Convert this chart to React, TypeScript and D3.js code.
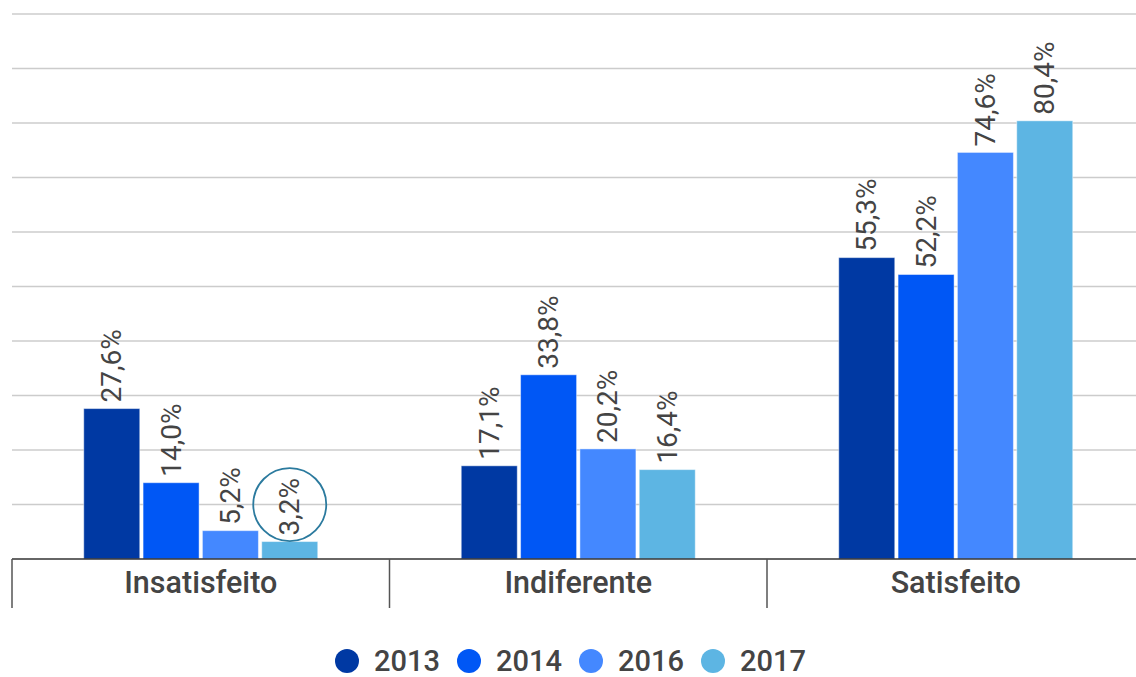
import { useMemo } from 'react';
import * as d3 from 'd3';

// categories and series
const categories = ['Insatisfeito', 'Indiferente', 'Satisfeito'];
const years = ['2013', '2014', '2016', '2017'];
const colors = ['#0039a3', '#0057f5', '#4488ff', '#5db5e3'];

// percent values per year, in category order
const v2013 = [27.6, 17.1, 55.3];
const v2014 = [14.0, 33.8, 52.2];
const v2016 = [5.2, 20.2, 74.6];
const v2017 = [3.2, 16.4, 80.4];
const series = [v2013, v2014, v2016, v2017];

const gridTicks = [0, 10, 20, 30, 40, 50, 60, 70, 80, 90, 100];

// the circled value
const highlight = { category: 'Insatisfeito', year: '2017' };

const W = 1136;
const H = 677;
const FONT = 'Roboto, "Noto Sans", sans-serif';

const fmt = (v: number) => d3.format('.1f')(v).replace('.', ',') + '%';

export default function App() {
  const margin = { left: 12, top: 14, baseline: 559 };

  const x0 = useMemo(
    () => d3.scaleBand<string>().domain(categories).range([margin.left, margin.left + 3 * 377.5]).padding(0),
    []
  );
  const groupW = 234;
  const x1 = useMemo(
    () => d3.scaleBand<string>().domain(years).range([0, groupW]).paddingInner(0.056).paddingOuter(0),
    []
  );
  const y = useMemo(
    () => d3.scaleLinear().domain([0, 100]).range([margin.baseline, margin.top]),
    []
  );

  const groupOffset = (x0.bandwidth() - groupW) / 2;
  const barX = (cat: string, yr: string) => (x0(cat) ?? 0) + groupOffset + (x1(yr) ?? 0);

  const hi = series[years.indexOf(highlight.year)][categories.indexOf(highlight.category)];
  const hiCx = barX(highlight.category, highlight.year) + x1.bandwidth() / 2;
  const hiCy = y(hi) - 37;

  const legendStep = 122;
  const legendX0 = 347;

  return (
    <svg
      width={W}
      height={H}
      style={{ position: 'absolute', left: 0, top: 0, background: '#fff' }}
      fontFamily={FONT}
    >
      {/* grid */}
      <g>
        {gridTicks.slice(1).map(t => (
          <line key={t} x1={margin.left} x2={W} y1={y(t)} y2={y(t)} stroke="#cccccc" strokeWidth={1.5} />
        ))}
      </g>

      {/* bars */}
      {categories.map((cat, ci) => (
        <g key={cat}>
          {years.map((yr, si) => {
            const v = series[si][ci];
            const bx = barX(cat, yr);
            return (
              <rect
                key={yr}
                x={bx}
                y={y(v)}
                width={x1.bandwidth()}
                height={y(0) - y(v)}
                fill={colors[si]}
                stroke="#ffffff"
                strokeOpacity={0.45}
                strokeWidth={1}
              />
            );
          })}
          {years.map((yr, si) => {
            const v = series[si][ci];
            const cx = barX(cat, yr) + x1.bandwidth() / 2;
            const ty = y(v) - 6;
            return (
              <text
                key={yr}
                transform={`translate(${cx},${ty}) rotate(-90)`}
                textAnchor="start"
                dominantBaseline="central"
                fontSize={28}
                fill="#444"
              >
                {fmt(v)}
              </text>
            );
          })}
        </g>
      ))}

      {/* annotation circle */}
      <circle cx={hiCx} cy={hiCy} r={36.5} fill="none" stroke="#2b7a9e" strokeWidth={1.8} />

      {/* x axis */}
      <line x1={margin.left} x2={W} y1={y(0)} y2={y(0)} stroke="#333" strokeWidth={1.5} />
      {categories.map(cat => (
        <g key={cat}>
          <line
            x1={x0(cat) ?? 0}
            x2={x0(cat) ?? 0}
            y1={y(0)}
            y2={608}
            stroke="#555"
            strokeWidth={1.5}
          />
          <text
            x={(x0(cat) ?? 0) + x0.bandwidth() / 2}
            y={593}
            textAnchor="middle"
            fontSize={30.5}
            fontWeight={500}
            fill="#444"
          >
            {cat}
          </text>
        </g>
      ))}

      {/* legend */}
      <g>
        {years.map((yr, i) => (
          <g key={yr} transform={`translate(${legendX0 + i * legendStep},661)`}>
            <circle r={12} fill={colors[i]} />
            <text x={27} y={0} dominantBaseline="central" fontSize={29} fontWeight={500} fill="#444">
              {yr}
            </text>
          </g>
        ))}
      </g>
    </svg>
  );
}
